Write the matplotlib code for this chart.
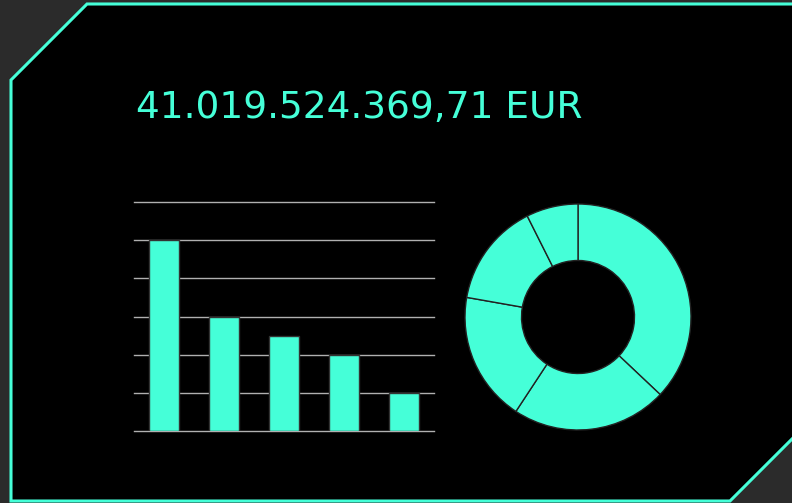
import matplotlib.pyplot as plt
from matplotlib.patches import Polygon

# total shown in the header and the five category values
total_label = "41.019.524.369,71 EUR"
categories = ["A", "B", "C", "D", "E"]
values = [5, 3, 2.5, 2, 1]
y_ticks = [0, 1, 2, 3, 4, 5, 6]

ACCENT = "#45ffd8"
BG = "#2b2b2b"
W, H = 792, 503

fig = plt.figure(figsize=(W / 100, H / 100), dpi=100)
fig.patch.set_facecolor(BG)


def fx(px):
    return px / W


def fy(py):
    return 1 - py / H


# panel with clipped corners
panel = [(87, 4), (800, 4), (800, 431), (730, 501), (11, 501), (11, 80)]
fig.patches.append(Polygon([(fx(x), fy(y)) for x, y in panel], closed=True,
                           transform=fig.transFigure, facecolor="black",
                           edgecolor=ACCENT, linewidth=2.2, zorder=-5))

fig.text(fx(136), fy(118), total_label, color=ACCENT, fontsize=27,
         family="DejaVu Sans", va="baseline", ha="left")

# bar chart
ax = fig.add_axes([fx(134), fy(431), (434 - 134) / W, (431 - 202) / H])
ax.set_facecolor("none")
x = range(len(categories))
ax.bar(x, values, width=0.5, color=ACCENT, edgecolor="#333333", linewidth=1, zorder=3)
ax.set_xlim(-0.5, len(categories) - 0.5)
ax.set_ylim(y_ticks[0], y_ticks[-1])
ax.set_yticks(y_ticks)
ax.yaxis.grid(True, color="#b0b0b0", linewidth=1, clip_on=False)
ax.set_axisbelow(True)
ax.tick_params(left=False, bottom=False, labelleft=False, labelbottom=False)
for s in ax.spines.values():
    s.set_visible(False)

# donut of the same values
ax2 = fig.add_axes([fx(465), fy(430), 226 / W, 226 / H])
ax2.pie(values, startangle=90, counterclock=False, radius=1,
        colors=[ACCENT] * len(values),
        wedgeprops=dict(width=0.5, edgecolor="#222222", linewidth=1))
ax2.set_xlim(-1, 1)
ax2.set_ylim(-1, 1)
ax2.set_aspect("equal")
ax2.axis("off")

fig.savefig("out.png", dpi=100, facecolor=BG)
